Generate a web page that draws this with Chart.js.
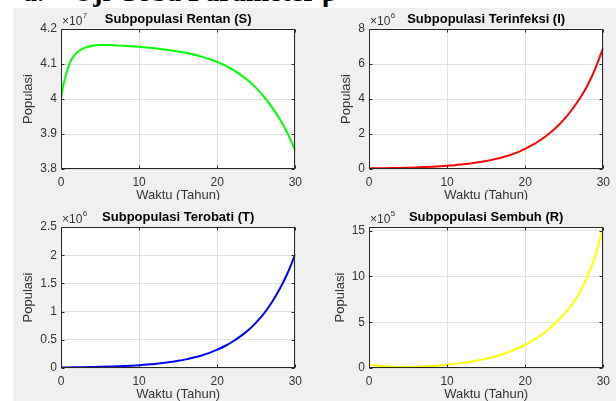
<!DOCTYPE html>
<html>
<head>
<meta charset="utf-8">
<script src="https://cdn.jsdelivr.net/npm/chart.js@4.4.1/dist/chart.umd.min.js"></script>
<style>
  html, body { margin: 0; padding: 0; background: #fff; }
  body { width: 616px; height: 401px; position: relative; overflow: hidden; }
  .hdr { position: absolute; top: -22px; font: bold 28px "Liberation Serif", "Times New Roman", serif; line-height: 28px; color: #000; white-space: pre; z-index: 0; }
  #fig { position: absolute; left: 13px; top: 8px; width: 603px; height: 393px; background: #f0f0f0; z-index: 1; }
  canvas { position: absolute; z-index: 2; }
</style>
</head>
<body>
<div class="hdr" style="left:23px">a.</div>
<div class="hdr" style="left:73px">Uji Coba Parameter β</div>
<div id="fig"></div>
<canvas id="cS" width="308" height="200" style="left:0;top:0"></canvas>
<canvas id="cI" width="308" height="200" style="left:308px;top:0"></canvas>
<canvas id="cT" width="308" height="201" style="left:0;top:200px"></canvas>
<canvas id="cR" width="308" height="201" style="left:308px;top:200px"></canvas>
<script>
// ---- data (time in years; population values in units of the axis exponent) ----
const years = [0, 0.25, 0.5, 1, 1.5, 2, 3, 4, 5, 6, 7, 8, 9, 10, 11, 12, 13, 14, 15,
               16, 17, 18, 19, 20, 21, 22, 23, 24, 25, 26, 27, 28, 29, 30];
const rentanS = [4.000, 4.035, 4.058, 4.095, 4.119, 4.132, 4.146, 4.152, 4.154, 4.154, 4.153, 4.152,
                 4.151, 4.149, 4.147, 4.145, 4.142, 4.139, 4.136, 4.132, 4.127, 4.121, 4.114, 4.106,
                 4.096, 4.084, 4.069, 4.052, 4.031, 4.006, 3.977, 3.943, 3.902, 3.853];
const terinfeksiI = [0.035, 0.036, 0.037, 0.039, 0.042, 0.045, 0.053, 0.064, 0.076, 0.090, 0.108, 0.130,
                     0.155, 0.190, 0.220, 0.270, 0.320, 0.380, 0.460, 0.550, 0.660, 0.790, 0.950, 1.160,
                     1.390, 1.670, 2.000, 2.390, 2.850, 3.400, 4.040, 4.800, 5.760, 6.950];
const terobatiT = [0.010, 0.010, 0.010, 0.011, 0.012, 0.013, 0.015, 0.018, 0.021, 0.025, 0.030, 0.035,
                   0.042, 0.050, 0.060, 0.072, 0.087, 0.105, 0.127, 0.153, 0.185, 0.222, 0.268, 0.325,
                   0.390, 0.470, 0.565, 0.675, 0.810, 0.970, 1.165, 1.400, 1.680, 2.020];
const sembuhR = [0.40, 0.36, 0.33, 0.27, 0.22, 0.18, 0.13, 0.11, 0.11, 0.13, 0.16, 0.21,
                 0.28, 0.36, 0.45, 0.56, 0.69, 0.84, 1.02, 1.23, 1.48, 1.78, 2.13, 2.54,
                 3.02, 3.58, 4.24, 5.00, 5.90, 6.96, 8.30, 10.05, 12.35, 15.40];

// ---- axes ticks ----
const xTicks = [0, 10, 20, 30];
const xTickLabels = ['0', '10', '20', '30'];
const sTicks = [3.8, 3.9, 4.0, 4.1, 4.2];
const sTickLabels = ['3.8', '3.9', '4', '4.1', '4.2'];
const iTicks = [0, 2, 4, 6, 8];
const iTickLabels = ['0', '2', '4', '6', '8'];
const tTicks = [0, 0.5, 1, 1.5, 2, 2.5];
const tTickLabels = ['0', '0.5', '1', '1.5', '2', '2.5'];
const rTicks = [0, 5, 10, 15];
const rTickLabels = ['0', '5', '10', '15'];

const titles = ['Subpopulasi Rentan (S)', 'Subpopulasi Terinfeksi (I)', 'Subpopulasi Terobati (T)', 'Subpopulasi Sembuh (R)'];
const exponents = ['7', '6', '6', '5'];
const xLabel = 'Waktu (Tahun)';
const yLabel = 'Populasi';

const FONT = '"Liberation Sans", Arial, Helvetica, sans-serif';
const TXT = '#333333';

const matlabPlugin = {
  id: 'matlab',
  beforeDraw(chart) {
    const { ctx, chartArea: a } = chart;
    ctx.save();
    ctx.fillStyle = '#ffffff';
    ctx.fillRect(a.left, a.top, a.right - a.left, a.bottom - a.top);
    ctx.restore();
  },
  afterDraw(chart, args, opts) {
    const { ctx, chartArea: a, scales } = chart;
    ctx.save();
    const L = Math.round(a.left) + 0.5, R = Math.round(a.right) - 0.5;
    const T = Math.round(a.top) + 0.5, B = Math.round(a.bottom) - 0.5;
    ctx.strokeStyle = '#262626';
    ctx.lineWidth = 1;
    ctx.strokeRect(L, T, R - L, B - T);
    ctx.beginPath();
    scales.x.ticks.forEach(t => {
      const px = Math.round(scales.x.getPixelForValue(t.value)) + 0.5;
      ctx.moveTo(px, B); ctx.lineTo(px, B - 3);
      ctx.moveTo(px, T); ctx.lineTo(px, T + 3);
    });
    scales.y.ticks.forEach(t => {
      const py = Math.round(scales.y.getPixelForValue(t.value)) + 0.5;
      ctx.moveTo(L, py); ctx.lineTo(L + 3, py);
      ctx.moveTo(R, py); ctx.lineTo(R - 3, py);
    });
    ctx.stroke();

    // title
    ctx.fillStyle = '#000';
    ctx.font = 'bold 13px ' + FONT;
    ctx.textAlign = 'center';
    ctx.textBaseline = 'middle';
    ctx.fillText(opts.title, (a.left + a.right) / 2, a.top - 9.5);

    // exponent label
    ctx.fillStyle = TXT;
    ctx.textAlign = 'left';
    ctx.font = '12px ' + FONT;
    ctx.fillText('\u00d710', a.left + 1, a.top - 7.5);
    const w = ctx.measureText('\u00d710').width;
    ctx.font = '8px ' + FONT;
    ctx.fillText(opts.exp, a.left + 1 + w + 0.5, a.top - 13);

    // x label
    ctx.font = '13px ' + FONT;
    ctx.textAlign = 'center';
    ctx.fillText(xLabel, (a.left + a.right) / 2, a.bottom + 26.5);

    // y label
    ctx.font = '12px ' + FONT;
    let maxW = 0;
    scales.y.ticks.forEach(t => { maxW = Math.max(maxW, ctx.measureText(t.label).width); });
    ctx.font = '13px ' + FONT;
    ctx.translate(a.left - 4 - maxW - 5 - 6.5, (a.top + a.bottom) / 2);
    ctx.rotate(-Math.PI / 2);
    ctx.fillText(yLabel, 0, 0);
    ctx.restore();
  }
};

function makeChart(id, values, color, yMin, yMax, yTicks, yTickLabels, idx, padTop, xHeight) {
  const pts = years.map((t, i) => ({ x: t, y: values[i] }));
  return new Chart(document.getElementById(id), {
    type: 'line',
    data: { datasets: [{ data: pts, borderColor: color, borderWidth: 2, pointRadius: 0,
                         fill: false, cubicInterpolationMode: 'monotone' }] },
    plugins: [matlabPlugin],
    options: {
      responsive: false,
      animation: false,
      devicePixelRatio: 1,
      layout: { padding: { top: padTop, right: 12, left: 0, bottom: 0 } },
      plugins: {
        legend: { display: false },
        tooltip: { enabled: false },
        matlab: { title: titles[idx], exp: exponents[idx] }
      },
      scales: {
        x: {
          type: 'linear', min: 0, max: 30,
          afterBuildTicks: s => { s.ticks = xTicks.map(v => ({ value: v })); },
          afterFit: s => { s.height = xHeight; },
          ticks: { padding: 6, color: TXT, font: { family: FONT, size: 12 },
                   callback: v => xTickLabels[xTicks.indexOf(v)] },
          grid: { color: '#e1e1e1', drawTicks: false },
          border: { display: false }
        },
        y: {
          type: 'linear', min: yMin, max: yMax,
          afterBuildTicks: s => { s.ticks = yTicks.map(v => ({ value: v })); },
          afterFit: s => { s.width = 61; },
          ticks: { padding: 4, color: TXT, font: { family: FONT, size: 12 },
                   callback: v => { const k = yTicks.findIndex(t => Math.abs(t - v) < 1e-9); return k >= 0 ? yTickLabels[k] : ''; } },
          grid: { color: '#e1e1e1', drawTicks: false },
          border: { display: false }
        }
      }
    }
  });
}

makeChart('cS', rentanS, '#00ff00', 3.8, 4.2, sTicks, sTickLabels, 0, 29, 31);
makeChart('cI', terinfeksiI, '#ff0000', 0, 8, iTicks, iTickLabels, 1, 29, 31);
makeChart('cT', terobatiT, '#0000ff', 0, 2.5, tTicks, tTickLabels, 2, 27, 33);
makeChart('cR', sembuhR, '#ffff00', 0, 15.4, rTicks, rTickLabels, 3, 27, 33);
</script>
</body>
</html>
